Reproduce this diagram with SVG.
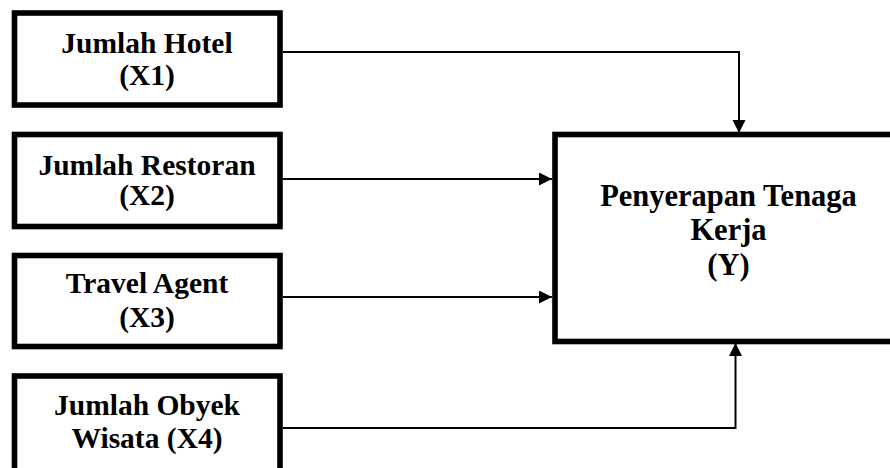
<svg xmlns="http://www.w3.org/2000/svg" width="890" height="468" viewBox="0 0 890 468">
<style>
.box{fill:#fff;stroke:#000;stroke-width:5.6}
.t{font-family:"Liberation Serif","Times New Roman",serif;font-weight:bold;font-size:29.5px;text-anchor:middle;fill:#000}
.c{fill:none;stroke:#000;stroke-width:2}
</style>
<defs>
<marker id="ah" markerUnits="userSpaceOnUse" markerWidth="14" markerHeight="14" refX="13" refY="6.5" orient="auto">
<path d="M0,0 L13,6.5 L0,13 z" fill="#000"/>
</marker>
</defs>
<rect width="890" height="468" fill="#fff"/>
<g id="connectors">
<path class="c" d="M283,52 H739 V133" marker-end="url(#ah)"/>
<path class="c" d="M283,179 H552" marker-end="url(#ah)"/>
<path class="c" d="M283,297 H552" marker-end="url(#ah)"/>
<path class="c" d="M283,428 H735.5 V343" marker-end="url(#ah)"/>
</g>
<g id="x1">
<rect class="box" x="14.5" y="13" width="265.5" height="92"/>
<text class="t" x="147" y="53">Jumlah Hotel</text>
<text class="t" x="147" y="85">(X1)</text>
</g>
<g id="x2">
<rect class="box" x="14.5" y="134.5" width="265.5" height="92"/>
<text class="t" x="147" y="175">Jumlah Restoran</text>
<text class="t" x="147" y="205">(X2)</text>
</g>
<g id="x3">
<rect class="box" x="14.5" y="255.5" width="265.5" height="91"/>
<text class="t" x="147" y="293">Travel Agent</text>
<text class="t" x="147" y="326.5">(X3)</text>
</g>
<g id="x4">
<rect class="box" x="14.5" y="376" width="265.5" height="110"/>
<text class="t" x="147" y="415">Jumlah Obyek</text>
<text class="t" x="147" y="448">Wisata (X4)</text>
</g>
<g id="y">
<rect class="box" x="555" y="134.5" width="360" height="207" stroke-width="6"/>
<text class="t" x="728.5" y="206" style="font-size:30.5px">Penyerapan Tenaga</text>
<text class="t" x="728.5" y="240" style="font-size:30.5px">Kerja</text>
<text class="t" x="728.5" y="275" style="font-size:30.5px">(Y)</text>
</g>
</svg>
